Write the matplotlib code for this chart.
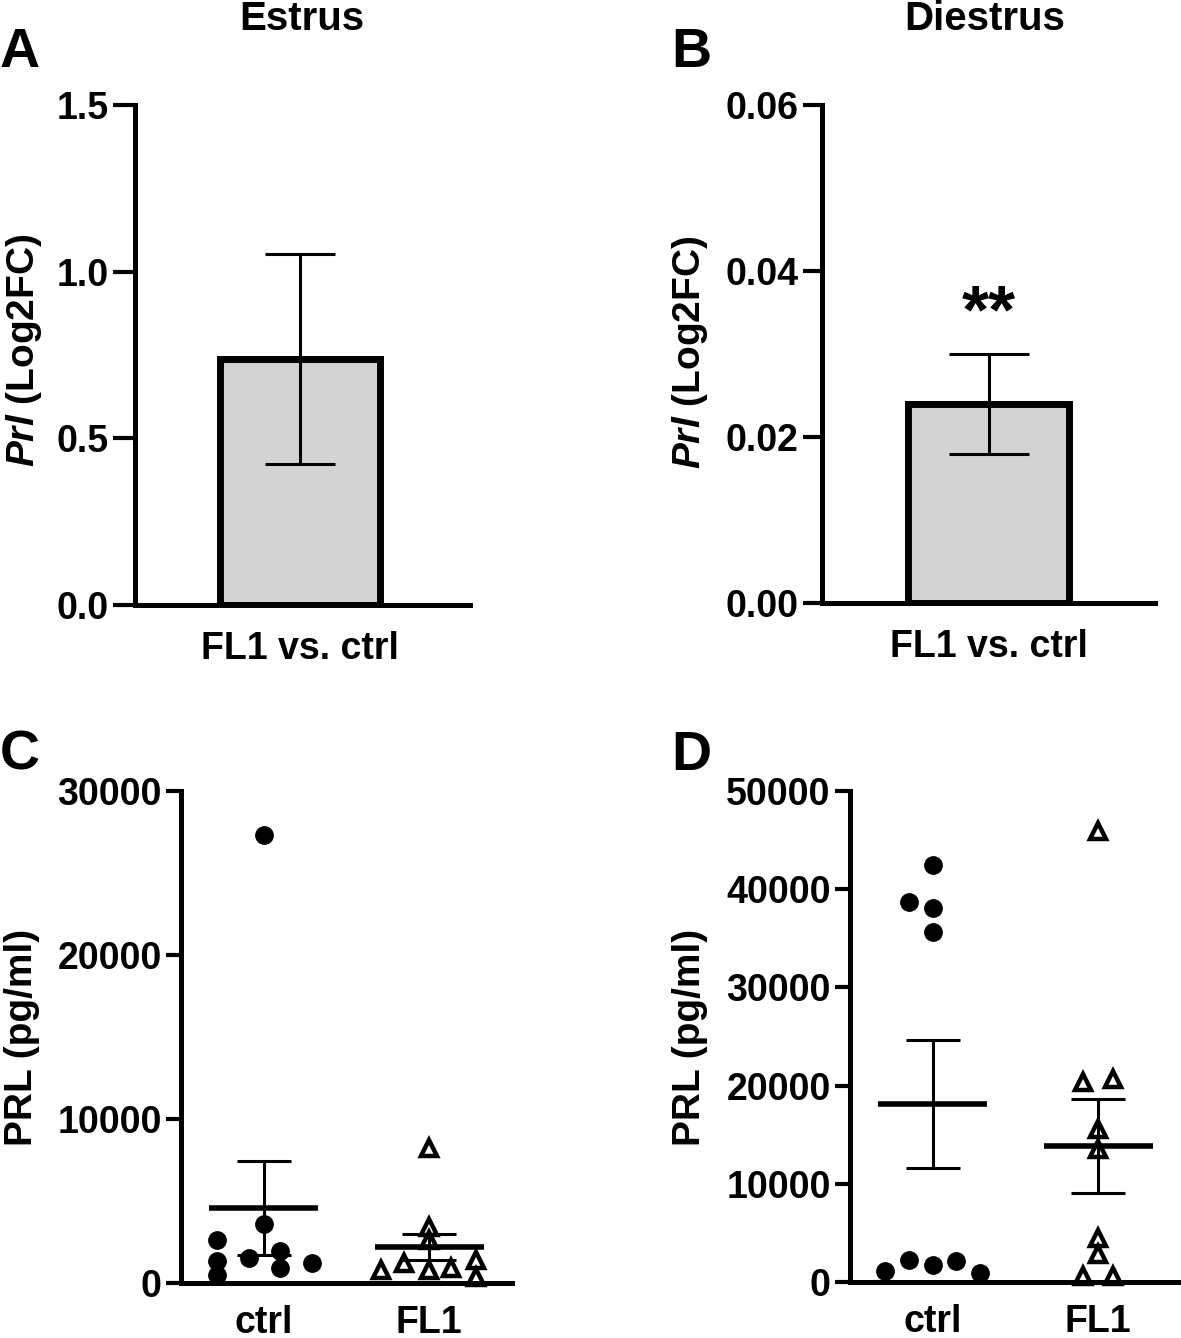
import numpy as np
import matplotlib
matplotlib.use("Agg")
import matplotlib.pyplot as plt

# --- data ---
# A / B: Prl Log2FC (FL1 vs. ctrl), bar = mean, error = SEM
estrus_fc_mean = [0.738]
estrus_fc_sem = [0.315]
diestrus_fc_mean = [0.024]
diestrus_fc_sem = [0.006]
fc_label = ["FL1 vs. ctrl"]

# C / D: serum PRL (pg/ml), individual animals
groups = ["ctrl", "FL1"]
estrus_ctrl = [27300, 2620, 1340, 490, 3600, 1520, 1950, 920, 1220]
estrus_fl1 = [8230, 3420, 2620, 790, 1220, 790, 920, 1400, 370]
diestrus_ctrl = [42500, 38700, 38100, 35600, 1120, 2240, 1730, 2130, 920]
diestrus_fl1 = [45900, 20400, 20700, 15550, 13500, 4470, 2850, 610, 610]

# horizontal scatter of the points (category units)
estrus_ctrl_dx = [0, -0.285, -0.285, -0.285, 0, -0.09, 0.10, 0.10, 0.29]
estrus_fl1_dx = [0, 0, 0, -0.29, -0.15, 0, 0.13, 0.285, 0.285]
diestrus_ctrl_dx = [0, -0.146, 0, 0, -0.287, -0.146, 0, 0.14, 0.287]
diestrus_fl1_dx = [0, -0.09, 0.09, 0, 0, 0, 0, -0.09, 0.09]

plt.rcParams['font.family'] = ['Liberation Sans', 'DejaVu Sans']
plt.rcParams['font.weight'] = 'bold'
plt.rcParams['mathtext.fontset'] = 'custom'
plt.rcParams['mathtext.it'] = 'Liberation Sans:italic:bold'
plt.rcParams['mathtext.rm'] = 'Liberation Sans:bold'

W, H = 1181, 1338
fig = plt.figure(figsize=(W / 100, H / 100), dpi=100)

FS = 27


def add_ax(l, t, r, b):
    return fig.add_axes([l / W, 1 - b / H, (r - l) / W, (b - t) / H])


def ftext(x, y, s, **kw):
    fig.text(x / W, 1 - y / H, s, **kw)


def style(ax, ytick_len):
    for side in ['top', 'right']:
        ax.spines[side].set_visible(False)
    for side in ['left', 'bottom']:
        ax.spines[side].set_linewidth(3.6)
    ax.tick_params(axis='y', length=ytick_len, width=3.0, labelsize=FS, pad=3)
    ax.tick_params(axis='x', length=0, labelsize=FS, pad=19)


# ---- A: Estrus Log2FC ----
axA = add_ax(135, 105, 470, 605)
axA.bar([0], estrus_fc_mean, width=1, color='#d3d3d3', edgecolor='black', linewidth=5, zorder=2)
axA.errorbar([0], estrus_fc_mean, yerr=estrus_fc_sem, fmt='none', ecolor='black',
             elinewidth=2.2, capsize=25, capthick=2.2, zorder=3)
axA.set_xlim(-1.03, 1.06)
axA.set_ylim(0, 1.5)
axA.set_yticks([0, 0.5, 1.0, 1.5])
axA.set_yticklabels(['0.0', '0.5', '1.0', '1.5'])
axA.set_xticks([0])
axA.set_xticklabels(fc_label)
style(axA, 16)

# ---- B: Diestrus Log2FC ----
axB = add_ax(822, 105, 1155, 603)
axB.bar([0], diestrus_fc_mean, width=1, color='#d3d3d3', edgecolor='black', linewidth=5, zorder=2)
axB.errorbar([0], diestrus_fc_mean, yerr=diestrus_fc_sem, fmt='none', ecolor='black',
             elinewidth=2.2, capsize=29, capthick=2.2, zorder=3)
axB.text(0, 0.0326, '**', ha='center', va='baseline', fontsize=50, fontweight='bold')
axB.set_xlim(-1.03, 1.03)
axB.set_ylim(0, 0.06)
axB.set_yticks([0, 0.02, 0.04, 0.06])
axB.set_yticklabels(['0.00', '0.02', '0.04', '0.06'])
axB.set_xticks([0])
axB.set_xticklabels(fc_label)
style(axB, 14)


# ---- C / D: scatter with mean +/- SEM ----
def dot_panel(ax, ctrl, fl1, ctrl_dx, fl1_dx):
    for i, (vals, dx) in enumerate([(ctrl, ctrl_dx), (fl1, fl1_dx)]):
        vals = np.array(vals, dtype=float)
        xs = i + np.array(dx)
        if i == 0:
            ax.plot(xs, vals, 'o', color='black', markersize=12.5, clip_on=False, zorder=2)
        else:
            ax.plot(xs, vals, '^', markerfacecolor='white', markeredgecolor='black',
                    markersize=11, markeredgewidth=3.2, clip_on=False, zorder=2)
        m = vals.mean()
        sem = vals.std(ddof=1) / np.sqrt(len(vals))
        ax.hlines(m, i - 0.33, i + 0.33, color='black', linewidth=4, zorder=3)
        ax.errorbar([i], [m], yerr=[sem], fmt='none', ecolor='black', elinewidth=2.2,
                    capsize=19.5, capthick=2.2, zorder=3)
    ax.set_xlim(-0.5, 1.5)
    ax.set_xticks([0, 1])
    ax.set_xticklabels(groups)


axC = add_ax(181, 791, 512, 1283)
dot_panel(axC, estrus_ctrl, estrus_fl1, estrus_ctrl_dx, estrus_fl1_dx)
axC.set_ylim(0, 30000)
axC.set_yticks([0, 10000, 20000, 30000])
style(axC, 11)
axC.tick_params(axis='x', pad=16)

axD = add_ax(850, 791, 1181, 1282)
dot_panel(axD, diestrus_ctrl, diestrus_fl1, diestrus_ctrl_dx, diestrus_fl1_dx)
axD.set_ylim(0, 50000)
axD.set_yticks([0, 10000, 20000, 30000, 40000, 50000])
style(axD, 11)
axD.tick_params(axis='x', pad=16)

# ---- labels, titles, panel letters ----
ftext(24, 350, r'$\mathit{Prl}$ (Log2FC)', rotation=90, ha='center', va='center', fontsize=28)
ftext(690, 352, r'$\mathit{Prl}$ (Log2FC)', rotation=90, ha='center', va='center', fontsize=28)
ftext(22, 1037, 'PRL (pg/ml)', rotation=90, ha='center', va='center', fontsize=28)
ftext(690, 1037, 'PRL (pg/ml)', rotation=90, ha='center', va='center', fontsize=28)

ftext(302, 30, 'Estrus', ha='center', va='baseline', fontsize=29)
ftext(985, 30, 'Diestrus', ha='center', va='baseline', fontsize=29)

ftext(0, 67, 'A', ha='left', va='baseline', fontsize=40)
ftext(671, 67, 'B', ha='left', va='baseline', fontsize=40)
ftext(0, 770, 'C', ha='left', va='baseline', fontsize=40)
ftext(671, 770, 'D', ha='left', va='baseline', fontsize=40)

fig.savefig('out.png', dpi=100)
